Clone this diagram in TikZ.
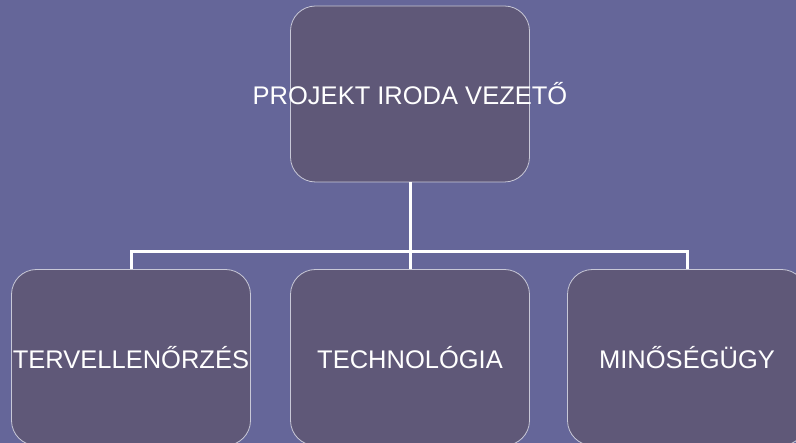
\documentclass[tikz,border=0pt]{standalone}
\usepackage{fontspec}
\setmainfont{Liberation Sans}
\definecolor{slide}{RGB}{101,102,153}
\definecolor{boxfill}{RGB}{95,88,120}
\definecolor{boxline}{RGB}{200,200,215}
\tikzset{
  unit/.style={draw=boxline, line width=0.8pt, fill=boxfill, rounded corners=25pt,
    minimum width=239pt, minimum height=176pt, inner sep=0pt,
    text=white, font=\fontsize{25.5}{30}\selectfont},
  link/.style={draw=white, line width=3pt}
}
\begin{document}
\begin{tikzpicture}[x=1pt, y=-1pt]
% Background
    \fill[slide] (0,0) rectangle (796,443);
    \useasboundingbox (0,0) rectangle (796,443);
    \clip (0,0) rectangle (796,443);
% Connectors
    \coordinate (fork) at (410,252);
    \coordinate (forkl) at (131,252);
    \coordinate (forkr) at (687,252);
% Units
    \node[unit] (vezeto) at (410,94) {\makebox[0pt]{PROJEKT IRODA VEZETŐ}};
    \node[unit] (terv) at (131,357.5) {\makebox[0pt]{TERVELLENŐRZÉS}};
    \node[unit] (tech) at (410,357.5) {\makebox[0pt]{TECHNOLÓGIA}};
    \node[unit] (minos) at (687,357.5) {\makebox[0pt]{MINŐSÉGÜGY}};
% Lines
    \draw[link] (vezeto.south) -- (fork);
    \draw[link] (terv.north) -- (forkl) -- (forkr) -- (minos.north);
    \draw[link] (fork) -- (tech.north);
\end{tikzpicture}
\end{document}
